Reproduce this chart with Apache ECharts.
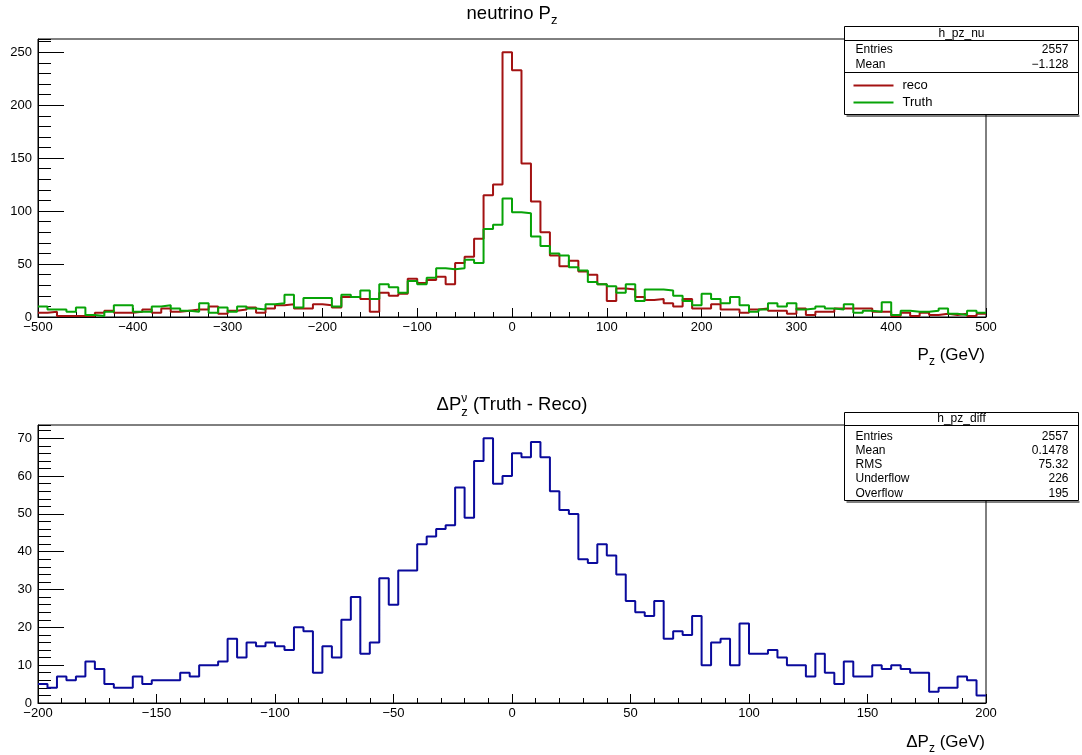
<!DOCTYPE html>
<html>
<head>
<meta charset="utf-8">
<script src="https://cdn.jsdelivr.net/npm/echarts@6/dist/echarts.min.js"></script>
<style>
html,body{margin:0;padding:0;background:#fff;}
#chart{width:1082px;height:755px;}
</style>
</head>
<body>
<div id="chart"></div>
<script>
// ---- h_pz_nu : neutrino Pz, 100 bins over [-500, 500] GeV ----
const pzRange = [-500, 500];
const pzReco = [
  4, 5, 1, 1, 1, 1, 4, 6, 4, 4,
  5, 7, 4, 8, 5, 6, 7, 7, 10, 3,
  6, 7, 9, 4, 8, 11, 12, 8, 8, 12,
  11, 9, 19, 19, 17, 5, 23, 20, 22, 36,
  32, 35, 38, 31, 51, 57, 74, 115, 125, 250,
  233, 145, 109, 80, 58, 48, 53, 43, 40, 31,
  15, 27, 26, 19, 16, 17, 13, 10, 17, 8,
  8, 12, 7, 7, 4, 7, 8, 6, 6, 3,
  8, 2, 5, 5, 8, 8, 8, 8, 5, 5,
  1, 4, 1, 4, 2, 3, 2, 3, 1, 3
];
const pzTruth = [
  10, 7, 7, 5, 9, 2, 1, 5, 11, 11,
  5, 5, 10, 11, 8, 6, 5, 13, 4, 9,
  5, 10, 8, 7, 12, 13, 21, 9, 18, 18,
  18, 10, 21, 19, 25, 17, 31, 28, 23, 34,
  31, 37, 46, 45, 46, 54, 51, 83, 87, 112,
  99, 98, 76, 67, 60, 58, 47, 44, 33, 31,
  29, 23, 31, 15, 26, 26, 25, 20, 15, 11,
  22, 17, 13, 19, 11, 5, 7, 13, 10, 13,
  7, 8, 10, 8, 7, 12, 4, 6, 5, 14,
  2, 6, 5, 5, 6, 8, 3, 2, 6, 4
];
const pzTicksX = [-500, -400, -300, -200, -100, 0, 100, 200, 300, 400, 500];
const pzTicksY = [0, 50, 100, 150, 200, 250];
const pzStats = [['Entries', '2557'], ['Mean', '\u22121.128']];
const pzLegend = [['reco', '#a31212'], ['Truth', '#07a307']];

// ---- h_pz_diff : Truth - Reco, 100 bins over [-200, 200] GeV ----
const diffRange = [-200, 200];
const pzDiff = [
  5, 4, 7, 6, 7, 11, 9, 5, 4, 4,
  7, 5, 6, 6, 6, 8, 7, 10, 10, 11,
  17, 12, 16, 15, 16, 15, 14, 20, 19, 8,
  15, 12, 22, 28, 13, 16, 33, 26, 35, 35,
  42, 44, 46, 47, 57, 49, 64, 70, 58, 60,
  66, 65, 69, 65, 56, 51, 50, 38, 37, 42,
  39, 34, 27, 24, 23, 27, 17, 19, 18, 23,
  10, 16, 17, 10, 21, 13, 13, 14, 12, 10,
  10, 7, 13, 8, 5, 11, 7, 7, 10, 9,
  10, 9, 8, 8, 3, 4, 4, 7, 6, 2
];
const diffTicksX = [-200, -150, -100, -50, 0, 50, 100, 150, 200];
const diffTicksY = [0, 10, 20, 30, 40, 50, 60, 70];
const diffStats = [['Entries', '2557'], ['Mean', '0.1478'], ['RMS', '75.32'],
                   ['Underflow', '226'], ['Overflow', '195']];

const FONT = "'Liberation Sans', Arial, Helvetica, sans-serif";
const BLACK = '#000';

// bin edges + contents -> step polyline points (last point closes the last bin)
function histPoints(range, counts) {
  const w = (range[1] - range[0]) / counts.length;
  const pts = counts.map((c, i) => [range[0] + i * w, c]);
  pts.push([range[1], counts[counts.length - 1]]);
  return pts;
}

const minusFmt = v => (v < 0 ? '\u2212' + Math.abs(v) : String(v));

function xAxisFor(gridIndex, ticks, minorStep) {
  const step = ticks[1] - ticks[0];
  return {
    type: 'value', gridIndex, min: ticks[0], max: ticks[ticks.length - 1], interval: step,
    axisLine: { show: true, onZero: false, lineStyle: { color: BLACK, width: 1 } },
    axisTick: { show: true, inside: true, length: 9, lineStyle: { color: BLACK, width: 1 } },
    minorTick: { show: true, splitNumber: Math.round(step / minorStep), length: 5,
                 lineStyle: { color: BLACK, width: 1 } },
    splitLine: { show: false }, minorSplitLine: { show: false },
    axisLabel: { color: BLACK, fontFamily: FONT, fontSize: 13, margin: 4, formatter: minusFmt }
  };
}
function yMajorFor(gridIndex, ticks, yMax) {
  return {
    type: 'value', gridIndex, position: 'left', min: 0, max: yMax, interval: ticks[1] - ticks[0],
    axisLine: { show: true, onZero: false, lineStyle: { color: BLACK, width: 1 } },
    axisTick: { show: true, inside: true, length: 26, lineStyle: { color: BLACK, width: 1 } },
    splitLine: { show: false },
    axisLabel: { color: BLACK, fontFamily: FONT, fontSize: 13, margin: 6, showMaxLabel: false,
                 formatter: v => (ticks.indexOf(v) >= 0 ? String(v) : '') }
  };
}
function yMinorFor(gridIndex, step, yMax) {
  return {
    type: 'value', gridIndex, position: 'left', offset: 0, min: 0, max: yMax, interval: step,
    axisLine: { show: false, onZero: false },
    axisTick: { show: true, inside: true, length: 13, lineStyle: { color: BLACK, width: 1 } },
    splitLine: { show: false },
    axisLabel: { show: false }
  };
}

// ---- text helpers (sub/superscripts laid out by measured width) ----
const mctx = document.createElement('canvas').getContext('2d');
function textW(t, size) { mctx.font = size + 'px ' + FONT; return mctx.measureText(t).width; }
function mathText(parts, x, baseline, align) {
  let total = 0;
  parts.forEach(p => { if (!p.stack) total += textW(p.t, p.s); });
  let cx = align === 'center' ? x - total / 2 : (align === 'right' ? x - total : x);
  const out = [];
  parts.forEach(p => {
    const y = baseline + (p.dy || 0) - 0.31 * p.s;
    out.push({ type: 'text', x: cx, y: y, z: 20, silent: true,
      style: { text: p.t, fontFamily: FONT, fontSize: p.s, fill: BLACK,
               align: 'left', verticalAlign: 'middle', textAlign: 'left', textVerticalAlign: 'middle' } });
    if (!p.stack) cx += textW(p.t, p.s);
  });
  return out;
}
function label(t, x, y, align, size) {
  return { type: 'text', x, y, z: 31, silent: true,
    style: { text: t, fontFamily: FONT, fontSize: size || 12, fill: BLACK,
             align, verticalAlign: 'middle', textAlign: align, textVerticalAlign: 'middle' } };
}
function hline(x1, x2, y, w) {
  return { type: 'line', z: 31, silent: true, shape: { x1, y1: y, x2, y2: y },
           style: { stroke: BLACK, lineWidth: w || 1 } };
}

// stats pave: title row, stat rows, optional legend rows
function statsPave(box, title, titleY, stats, rowY0, rowH, legend, legY0, legH) {
  const els = [];
  els.push({ type: 'rect', z: 30, silent: true,
    shape: { x: box.x, y: box.y, width: box.w, height: box.h },
    style: { fill: '#fff', stroke: BLACK, lineWidth: 1 } });
  els.push(hline(box.x + 2, box.x + box.w + 1, box.y + box.h + 1.5, 1));
  els.push(hline(box.x, box.x + box.w, box.sep1, 1));
  els.push(label(title, box.x + box.w / 2, titleY, 'center', 12));
  stats.forEach((r, i) => {
    els.push(label(r[0], box.x + 11, rowY0 + i * rowH, 'left', 12));
    els.push(label(r[1], box.x + box.w - 10, rowY0 + i * rowH, 'right', 12));
  });
  if (legend) {
    els.push(hline(box.x, box.x + box.w, box.sep2, 1));
    legend.forEach((l, i) => {
      const y = legY0 + i * legH;
      els.push({ type: 'line', z: 31, silent: true, shape: { x1: box.x + 9, y1: y, x2: box.x + 49, y2: y },
                 style: { stroke: l[1], lineWidth: 2 } });
      els.push(label(l[0], box.x + 58, y, 'left', 13));
    });
  }
  return els;
}

const pzYMax = 1.05 * Math.max(...pzReco, ...pzTruth);
const diffYMax = 1.05 * Math.max(...pzDiff);

const graphics = [].concat(
  mathText([{ t: 'neutrino P', s: 18.5 }, { t: 'z', s: 13, dy: 5 }], 512, 19.5, 'center'),
  mathText([{ t: '\u0394P', s: 18.5 }, { t: '\u03bd', s: 12, dy: -9, stack: true },
            { t: 'z', s: 13, dy: 5 }, { t: ' (Truth - Reco)', s: 18.5 }], 512, 411, 'center'),
  mathText([{ t: 'P', s: 17 }, { t: 'z', s: 12, dy: 4 }, { t: ' (GeV)', s: 17 }], 985, 361, 'right'),
  mathText([{ t: '\u0394P', s: 17 }, { t: 'z', s: 12, dy: 4 }, { t: ' (GeV)', s: 17 }], 985, 748, 'right'),
  statsPave({ x: 844.5, y: 26.5, w: 234, h: 88, sep1: 40.5, sep2: 72.5 }, 'h_pz_nu', 33.5,
            pzStats, 50, 14.5, pzLegend, 85.5, 17),
  statsPave({ x: 844.5, y: 412.5, w: 234, h: 88, sep1: 425.5 }, 'h_pz_diff', 419,
            diffStats, 436.5, 14.2)
);

const chart = echarts.init(document.getElementById('chart'), null, { renderer: 'canvas' });
chart.setOption({
  animation: false,
  backgroundColor: '#fff',
  grid: [
    { left: 38, top: 39, width: 948, height: 278, show: true, borderColor: BLACK, borderWidth: 1,
      backgroundColor: 'rgba(0,0,0,0)' },
    { left: 38, top: 425, width: 948, height: 278, show: true, borderColor: BLACK, borderWidth: 1,
      backgroundColor: 'rgba(0,0,0,0)' }
  ],
  xAxis: [xAxisFor(0, pzTicksX, 20), xAxisFor(1, diffTicksX, 10)],
  yAxis: [yMajorFor(0, pzTicksY, pzYMax), yMinorFor(0, 10, pzYMax),
          yMajorFor(1, diffTicksY, diffYMax), yMinorFor(1, 2, diffYMax)],
  series: [
    { type: 'line', name: 'reco', xAxisIndex: 0, yAxisIndex: 0, step: 'end',
      data: histPoints(pzRange, pzReco), symbol: 'none', showSymbol: false, clip: true,
      lineStyle: { color: pzLegend[0][1], width: 2 }, itemStyle: { color: pzLegend[0][1] } },
    { type: 'line', name: 'Truth', xAxisIndex: 0, yAxisIndex: 0, step: 'end',
      data: histPoints(pzRange, pzTruth), symbol: 'none', showSymbol: false, clip: true,
      lineStyle: { color: pzLegend[1][1], width: 2 }, itemStyle: { color: pzLegend[1][1] } },
    { type: 'line', name: 'h_pz_diff', xAxisIndex: 1, yAxisIndex: 2, step: 'end',
      data: histPoints(diffRange, pzDiff), symbol: 'none', showSymbol: false, clip: true,
      lineStyle: { color: '#0a0a9c', width: 2 }, itemStyle: { color: '#0a0a9c' } }
  ],
  graphic: { elements: graphics }
});
</script>
</body>
</html>
